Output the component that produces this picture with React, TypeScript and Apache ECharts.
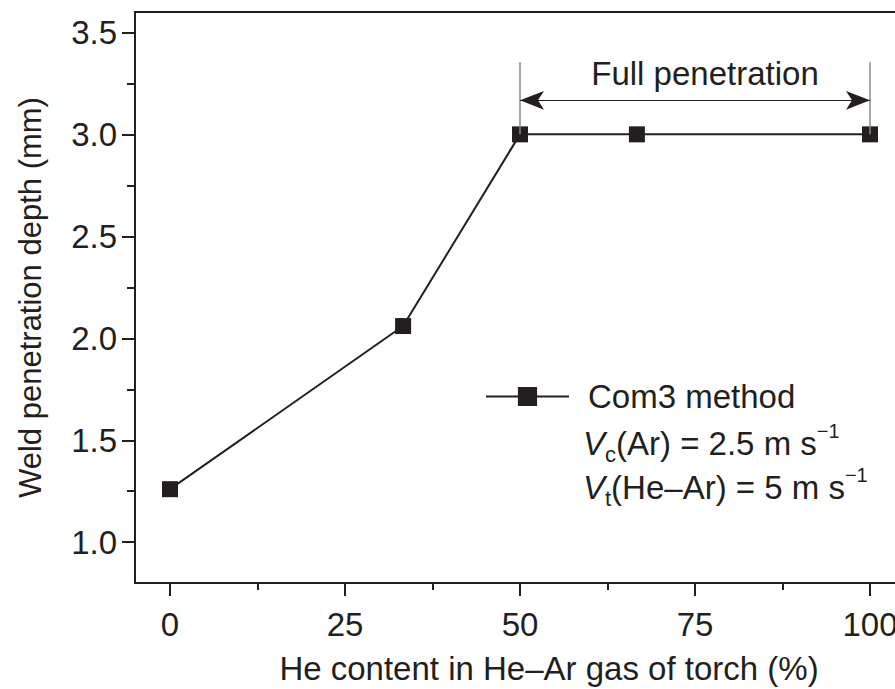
import React, { useEffect, useRef } from "react";
import * as echarts from "echarts";

const heContent = [0, 33.3, 50, 66.7, 100];
const depth = [1.26, 2.06, 3.0, 3.0, 3.0];
const xTicks = [0, 25, 50, 75, 100];
const xMinorTicks = [12.5, 37.5, 62.5, 87.5];
const yTicks = [1.0, 1.5, 2.0, 2.5, 3.0, 3.5];
const yMinorTicks = [1.25, 1.75, 2.25, 2.75, 3.25];
const fullPenRange = [50, 100];
const arrowY = 3.167;
const bracketTop = 3.353;
const seriesName = "Com3 method";

const INK = "#231f20";
const FONT = "'Liberation Sans', Arial, Helvetica, sans-serif";
const FS = 33;

export default function App() {
  const ref = useRef<HTMLDivElement>(null);
  useEffect(() => {
    if (!ref.current) return;
    const chart = echarts.init(ref.current, null, { renderer: "svg" });
    const xRange = { min: -5, max: 105 };
    const yRange = { min: 0.8, max: 3.6 };
    chart.setOption({
      animation: false,
      backgroundColor: "#ffffff",
      textStyle: { fontFamily: FONT, color: INK },
      grid: {
        left: 135,
        top: 12,
        width: 770,
        height: 571,
        outerBoundsMode: "none",
        containLabel: false,
        show: true,
        borderColor: INK,
        borderWidth: 2,
        backgroundColor: "transparent",
      },
      legend: {
        left: 485,
        top: 380,
        padding: 0,
        itemWidth: 83,
        itemHeight: 24,
        textStyle: { fontSize: FS, color: INK, fontFamily: FONT, padding: [0, 0, 0, 14] },
        data: [seriesName],
      },
      xAxis: [
        {
          type: "value",
          ...xRange,
          name: "He content in He\u2013Ar gas of torch (%)",
          nameLocation: "middle",
          nameGap: 69,
          nameTextStyle: { fontSize: FS, color: INK, fontFamily: FONT, padding: [0, 0, 0, 58] },
          axisLine: { show: true, onZero: false, lineStyle: { color: INK, width: 2 } },
          axisTick: { show: true, customValues: xTicks, length: 13, lineStyle: { color: INK, width: 2 } },
          axisLabel: { customValues: xTicks, fontSize: FS, color: INK, margin: 25, fontFamily: FONT },
          splitLine: { show: false },
        },
        {
          type: "value",
          ...xRange,
          position: "bottom",
          axisLine: { show: false, onZero: false },
          axisTick: { show: true, customValues: xMinorTicks, length: 7, lineStyle: { color: INK, width: 2 } },
          axisLabel: { show: false },
          splitLine: { show: false },
        },
      ],
      yAxis: [
        {
          type: "value",
          ...yRange,
          name: "Weld penetration depth (mm)",
          nameLocation: "middle",
          nameGap: 89,
          nameRotate: 90,
          nameTextStyle: { fontSize: 31, color: INK, fontFamily: FONT },
          axisLine: { show: true, onZero: false, lineStyle: { color: INK, width: 2 } },
          axisTick: { show: true, customValues: yTicks, length: 13, lineStyle: { color: INK, width: 2 } },
          axisLabel: {
            customValues: yTicks,
            fontSize: FS,
            color: INK,
            margin: 18,
            fontFamily: FONT,
            formatter: (v: number) => v.toFixed(1),
          },
          splitLine: { show: false },
        },
        {
          type: "value",
          ...yRange,
          position: "left",
          axisLine: { show: false, onZero: false },
          axisTick: { show: true, customValues: yMinorTicks, length: 8, lineStyle: { color: INK, width: 2 } },
          axisLabel: { show: false },
          splitLine: { show: false },
        },
      ],
      series: [
        {
          name: seriesName,
          type: "line",
          xAxisIndex: 0,
          yAxisIndex: 0,
          data: heContent.map((x, i) => [x, depth[i]]),
          symbol: "rect",
          symbolSize: 16,
          lineStyle: { color: INK, width: 2 },
          itemStyle: { color: INK },
          markLine: {
            silent: true,
            symbol: ["none", "none"],
            lineStyle: { color: "#8a8a8a", width: 1.5, type: "solid" },
            label: { show: false },
            data: [
              [
                { coord: [fullPenRange[0], 3.0] },
                { coord: [fullPenRange[0], bracketTop] },
              ],
              [
                { coord: [fullPenRange[1], 3.0] },
                { coord: [fullPenRange[1], bracketTop] },
              ],
              [
                {
                  coord: [fullPenRange[0], arrowY],
                  symbol: "arrow",
                  symbolSize: [14, 24],
                  label: {
                    show: true,
                    formatter: "Full penetration",
                    position: "insideMiddleTop",
                    distance: 10,
                    fontSize: FS,
                    color: INK,
                    fontFamily: FONT,
                    offset: [10, 0],
                  },
                  lineStyle: { color: INK, width: 1.2 },
                },
                { coord: [fullPenRange[1], arrowY], symbol: "arrow", symbolSize: [14, 24] },
              ],
            ],
          },
        },
      ],
      graphic: [
        {
          type: "text",
          left: 583,
          top: 421,
          style: {
            text: "{i|V}{sub|c}(Ar) = 2.5 m s{sup|\u22121}\n{i|V}{sub|t}(He\u2013Ar) = 5 m s{sup|\u22121}",
            fontSize: FS,
            fontFamily: FONT,
            fill: INK,
            lineHeight: 44,
            rich: {
              i: { fontStyle: "italic", fontSize: FS, fontFamily: FONT, fill: INK, lineHeight: 44 },
              sub: { fontSize: 22, fontFamily: FONT, fill: INK, verticalAlign: "bottom", lineHeight: 44 },
              sup: { fontSize: 20, fontFamily: FONT, fill: INK, verticalAlign: "top", lineHeight: 44 },
            },
          },
        },
      ],
    });
    return () => chart.dispose();
  }, []);
  return (
    <div
      ref={ref}
      style={{ position: "fixed", left: 0, top: 0, width: 895, height: 689, background: "#fff" }}
    />
  );
}
